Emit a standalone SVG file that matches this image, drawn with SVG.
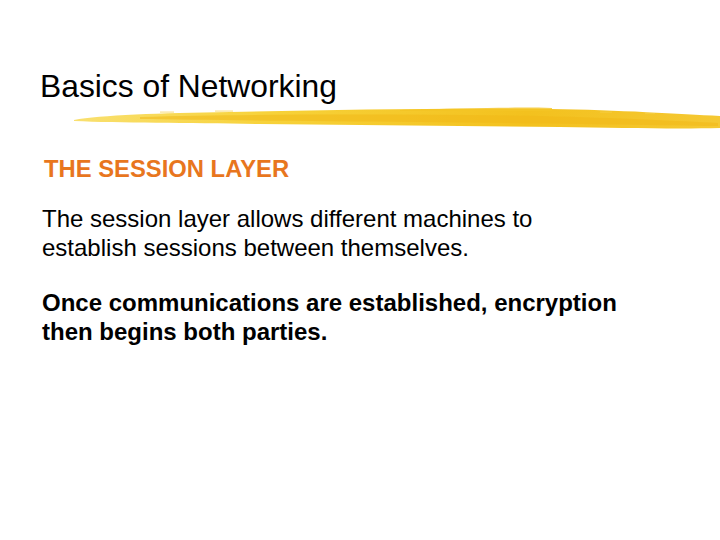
<svg xmlns="http://www.w3.org/2000/svg" width="720" height="540" viewBox="0 0 720 540">
  <defs>
    <linearGradient id="brush" x1="0" y1="0" x2="1" y2="0">
      <stop offset="0" stop-color="#F9E070"/>
      <stop offset="0.3" stop-color="#F7D23A"/>
      <stop offset="0.7" stop-color="#F3C11E"/>
      <stop offset="1" stop-color="#F5C832"/>
    </linearGradient>
  </defs>
  <style>
    .title { font-family: "Liberation Sans", Arial, sans-serif; font-size: 31.8px; fill: #000000; }
    .head { font-family: "Liberation Sans", Arial, sans-serif; font-size: 23.8px; font-weight: bold; fill: #E8761E; }
    .body { font-family: "Liberation Sans", Arial, sans-serif; font-size: 24px; fill: #000000; }
    .bold { font-weight: bold; }
    .fleck { fill: #F5D04A; opacity: 0.6; }
  </style>
  <rect width="720" height="540" fill="#FFFFFF"/>
  <g id="title">
    <text class="title" x="40" y="97">Basics of Networking</text>
  </g>
  <g id="brush-stroke">
    <path d="M74,120 C100,115 160,113 230,112 C330,110 430,108 550,109 C620,110 680,114 720,116 L720,128 C680,129 620,128 560,127 C460,126 360,125 260,124 C190,123 120,123 74,121 Z" fill="url(#brush)"/>
    <path d="M140,117 C250,114 400,114 540,116 C620,118 680,121 718,123 L718,126 C640,125 540,123 420,122 C300,121 200,120 140,119 Z" fill="#F0B818" opacity="0.55"/>
    <path d="M400,110 C470,108 520,107 552,108 L552,111 C500,111 450,111 400,111 Z" fill="#F4C424" opacity="0.8"/>
    <rect class="fleck" x="160" y="111.5" width="14" height="1.2"/>
    <rect class="fleck" x="215" y="110.5" width="18" height="1.2"/>
    <rect class="fleck" x="600" y="111.5" width="12" height="1.2"/>
    <rect class="fleck" x="645" y="113" width="10" height="1.2"/>
  </g>
  <g id="heading">
    <text class="head" x="44" y="177">THE SESSION LAYER</text>
  </g>
  <g id="para1">
    <text class="body" x="42" y="227">The session layer allows different machines to</text>
    <text class="body" x="42" y="256">establish sessions between themselves.</text>
  </g>
  <g id="para2">
    <text class="body bold" x="42" y="311">Once communications are established, encryption</text>
    <text class="body bold" x="42" y="340">then begins both parties.</text>
  </g>
</svg>
